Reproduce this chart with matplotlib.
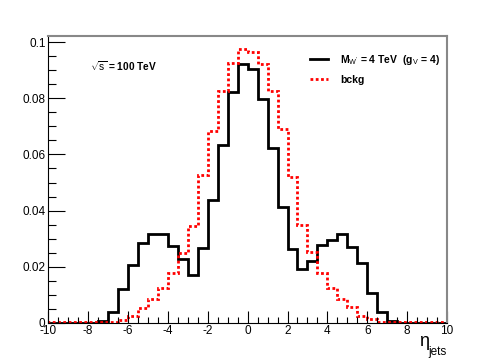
import numpy as np
import matplotlib
matplotlib.use("Agg")
import matplotlib.pyplot as plt
from matplotlib.ticker import MultipleLocator

plt.rcParams['font.family'] = ['Liberation Sans', 'DejaVu Sans']
plt.rcParams['mathtext.fontset'] = 'custom'
plt.rcParams['mathtext.rm'] = 'Liberation Sans'
plt.rcParams['mathtext.it'] = 'Liberation Sans:italic'
plt.rcParams['mathtext.bf'] = 'Liberation Sans:bold'

# bin edges of eta_jets histogram (40 bins of 0.5)
bin_edges = np.arange(-10, 10.001, 0.5)

# signal W' (4 TeV, g_V = 4)
signal = [0, 0, 0, 0, 0, 0.0007, 0.0038, 0.0121, 0.0206, 0.0283,
          0.0315, 0.0315, 0.0273, 0.0226, 0.0170, 0.0265, 0.0438, 0.0633, 0.0823, 0.0924,
          0.0905, 0.0798, 0.0623, 0.0414, 0.0264, 0.0193, 0.0220, 0.0276, 0.0295, 0.0317,
          0.0270, 0.0212, 0.0105, 0.0039, 0.0006, 0, 0, 0, 0, 0]

# background
bckg = [0.0001, 0.0001, 0.0001, 0.0001, 0.0001, 0.0001, 0.0002, 0.0010, 0.0025, 0.0051,
        0.0083, 0.0122, 0.0176, 0.0250, 0.0345, 0.0527, 0.0685, 0.0826, 0.0925, 0.0976,
        0.0966, 0.0922, 0.0826, 0.0690, 0.0521, 0.0348, 0.0252, 0.0178, 0.0122, 0.0083,
        0.0055, 0.0025, 0.0012, 0.0002, 0.0001, 0.0001, 0.0001, 0.0001, 0.0001, 0.0001]

xticks = [-10, -8, -6, -4, -2, 0, 2, 4, 6, 8, 10]
yticks = [0, 0.02, 0.04, 0.06, 0.08, 0.1]
ytick_labels = ['0', '0.02', '0.04', '0.06', '0.08', '0.1']

fig = plt.figure(figsize=(4.98, 3.6), dpi=100)
ax = fig.add_axes([0.097, 0.1036, 0.8006, 0.7972])

ax.stairs(signal, bin_edges, color='black', lw=2.0, label=r"M$_{\rm W'}$ = 4 TeV  (g$_{\rm V}$ = 4)")
ax.stairs(bckg, bin_edges, color='#ff0000', lw=2.0, linestyle=(0, (1, 0.9)), label='bckg')

ax.set_xlim(-10, 10)
ax.set_ylim(0, 0.10235)
ax.set_xticks(xticks)
ax.set_xticklabels([str(t) for t in xticks])
ax.set_yticks(yticks)
ax.set_yticklabels(ytick_labels)
ax.xaxis.set_minor_locator(MultipleLocator(0.5))
ax.yaxis.set_minor_locator(MultipleLocator(0.005))
ax.tick_params(which='major', direction='in', length=9, width=0.8, labelsize=8.5, pad=2)
ax.tick_params(which='minor', direction='in', length=4.5, width=0.8)
ax.tick_params(axis='y', which='major', length=12)
ax.tick_params(axis='y', which='minor', length=6)
ax.tick_params(top=False, right=False, which='both')

for s in ['top', 'right']:
    ax.spines[s].set_color('#888888')
    ax.spines[s].set_linewidth(1.5)
for s in ['left', 'bottom']:
    ax.spines[s].set_linewidth(0.8)

ax.text(0.105, 0.895, r'$\sqrt{\rm s}$ = 100 TeV', transform=ax.transAxes,
        fontsize=7.3, fontweight='bold', ha='left', va='center')

leg = ax.legend(loc='upper left', bbox_to_anchor=(0.645, 0.955), frameon=False,
                prop={'size': 7.5, 'weight': 'bold'}, handlelength=1.8, handletextpad=1.1,
                labelspacing=0.75, borderaxespad=0)

fig.text(0.842, 0.052, 'η', fontsize=13, ha='left', va='center')
fig.text(0.861, 0.022, 'jets', fontsize=8.5, ha='left', va='center')

fig.savefig('out.png', dpi=100)
